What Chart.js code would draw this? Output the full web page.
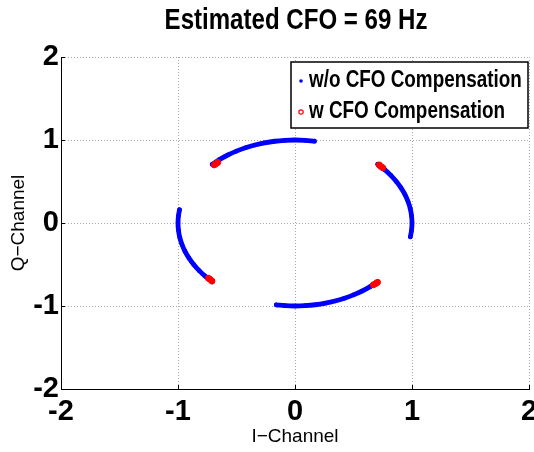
<!DOCTYPE html>
<html>
<head>
<meta charset="utf-8">
<script src="https://cdn.jsdelivr.net/npm/chart.js@4.4.1/dist/chart.umd.min.js"></script>
<style>
  html, body { margin: 0; padding: 0; background: #fff; }
  #wrap { width: 534px; height: 452px; }
</style>
</head>
<body>
<div id="wrap"><canvas id="cfoChart" width="534" height="452"></canvas></div>
<script>
// labels
const chartTitle = 'Estimated CFO = 69 Hz';
const xTitle = 'I\u2212Channel';
const yTitle = 'Q\u2212Channel';
const blueLabel = 'w/o CFO Compensation';
const redLabel = 'w CFO Compensation';
const tickValues = [-2, -1, 0, 1, 2];

// blue: received symbols without compensation, four arcs [I, Q]
const arcTop = [
  [-0.707, 0.707], [-0.643, 0.766], [-0.574, 0.819], [-0.500, 0.866], [-0.423, 0.906], [-0.342, 0.940],
  [-0.259, 0.966], [-0.174, 0.985], [-0.087, 0.996], [0.000, 1.000], [0.087, 0.996], [0.166, 0.986]
];
const arcRight = [
  [0.707, 0.707], [0.766, 0.643], [0.819, 0.574], [0.866, 0.500], [0.906, 0.423], [0.940, 0.342],
  [0.966, 0.259], [0.985, 0.174], [0.996, 0.087], [1.000, 0.000], [0.996, -0.087], [0.986, -0.166]
];
const arcBottom = [
  [0.707, -0.707], [0.643, -0.766], [0.574, -0.819], [0.500, -0.866], [0.423, -0.906], [0.342, -0.940],
  [0.259, -0.966], [0.174, -0.985], [0.087, -0.996], [0.000, -1.000], [-0.087, -0.996], [-0.160, -0.987]
];
const arcLeft = [
  [-0.707, -0.707], [-0.766, -0.643], [-0.819, -0.574], [-0.866, -0.500], [-0.906, -0.423], [-0.940, -0.342],
  [-0.966, -0.259], [-0.985, -0.174], [-0.996, -0.087], [-1.000, 0.000], [-0.996, 0.087], [-0.987, 0.160]
];

// red: symbols after compensation, clustered at the QPSK points
const compensated = [
  [-0.69, 0.70], [-0.675, 0.715], [-0.66, 0.73],
  [0.72, 0.70], [0.735, 0.68], [0.75, 0.665],
  [0.67, -0.745], [0.69, -0.73], [0.705, -0.715],
  [-0.74, -0.665], [-0.725, -0.68], [-0.71, -0.70]
];

const boldFont = "'Liberation Sans', Arial, sans-serif";
const plainFont = "'Liberation Sans', Arial, sans-serif";

const toPoints = (arr) => arr.map(([x, y]) => ({ x, y }));

const arcDataset = (arr) => ({
  label: blueLabel,
  data: toPoints(arr),
  showLine: true,
  borderColor: '#0000ff',
  backgroundColor: '#0000ff',
  borderWidth: 4.8,
  borderCapStyle: 'round',
  borderJoinStyle: 'round',
  tension: 0.4,
  pointRadius: 2.3,
  pointBorderWidth: 0,
  order: 2
});

// MATLAB style ticks pointing into the plot
const innerTicks = {
  id: 'innerTicks',
  afterDatasetsDraw(chart) {
    const { ctx, chartArea: a, scales: { x, y } } = chart;
    ctx.save();
    ctx.strokeStyle = '#000';
    ctx.lineWidth = 1;
    ctx.beginPath();
    tickValues.forEach((v) => {
      const px = Math.round(x.getPixelForValue(v)) + 0.5;
      ctx.moveTo(px, a.bottom);
      ctx.lineTo(px, a.bottom - 4);
      const py = Math.round(y.getPixelForValue(v)) + 0.5;
      ctx.moveTo(a.left, py);
      ctx.lineTo(a.left + 4, py);
    });
    ctx.stroke();
    ctx.restore();
  }
};

// condensed bold title centred over the plot area
const narrowTitle = {
  id: 'narrowTitle',
  afterDraw(chart) {
    const { ctx, chartArea: a } = chart;
    ctx.save();
    ctx.font = 'bold 29px ' + boldFont;
    ctx.fillStyle = '#000';
    ctx.textAlign = 'center';
    ctx.textBaseline = 'middle';
    const w = ctx.measureText(chartTitle).width * 0.83;
    ctx.fillText(chartTitle, (a.left + a.right) / 2 + 1, 21, w);
    ctx.restore();
  }
};

// boxed legend in the upper right corner
const boxLegend = {
  id: 'boxLegend',
  afterDraw(chart) {
    const { ctx, chartArea: a } = chart;
    const w = 237, h = 66;
    const left = a.right - w - 1, top = a.top + 5;
    ctx.save();
    ctx.fillStyle = '#fff';
    ctx.fillRect(left, top, w, h);
    ctx.strokeStyle = '#000';
    ctx.lineWidth = 1.5;
    ctx.strokeRect(left, top, w, h);

    const rows = [
      { label: chart.data.datasets[0].label, y: top + 19, color: '#0000ff', hollow: false },
      { label: chart.data.datasets[4].label, y: top + 50, color: '#ff0000', hollow: true }
    ];
    ctx.font = 'bold 23px ' + boldFont;
    ctx.textBaseline = 'middle';
    ctx.textAlign = 'left';
    rows.forEach((r) => {
      ctx.beginPath();
      if (r.hollow) {
        ctx.arc(left + 10, r.y, 2.2, 0, Math.PI * 2);
        ctx.strokeStyle = r.color;
        ctx.lineWidth = 1.2;
        ctx.stroke();
      } else {
        ctx.arc(left + 10, r.y, 1.8, 0, Math.PI * 2);
        ctx.fillStyle = r.color;
        ctx.fill();
      }
      ctx.fillStyle = '#000';
      ctx.fillText(r.label, left + 18, r.y, ctx.measureText(r.label).width * 0.82);
    });
    ctx.restore();
  }
};

const gridStyle = { color: '#a8a8a8', lineWidth: 1, drawTicks: false };
const borderStyle = { display: true, color: '#000', width: 1, dash: [1, 2] };
const tickFont = { family: boldFont, size: 29, weight: 'bold' };

new Chart(document.getElementById('cfoChart'), {
  type: 'scatter',
  data: {
    datasets: [
      arcDataset(arcTop),
      arcDataset(arcRight),
      arcDataset(arcBottom),
      arcDataset(arcLeft),
      {
        label: redLabel,
        data: toPoints(compensated),
        showLine: false,
        pointRadius: 3,
        pointBackgroundColor: '#ff0000',
        pointBorderColor: '#ff0000',
        pointBorderWidth: 1,
        order: 1
      }
    ]
  },
  options: {
    responsive: false,
    animation: false,
    layout: { padding: { left: 0, right: 5, top: 57, bottom: 0 } },
    plugins: {
      legend: { display: false },
      tooltip: { enabled: false },
      title: { display: false }
    },
    scales: {
      x: {
        type: 'linear',
        min: -2,
        max: 2,
        afterFit: (s) => { s.height = 63; s.paddingLeft = 0; s.paddingRight = 0; },
        ticks: { stepSize: 1, padding: 6, color: '#000', font: tickFont, maxRotation: 0 },
        grid: gridStyle,
        border: borderStyle,
        title: {
          display: true, text: xTitle, color: '#000',
          font: { family: plainFont, size: 19 },
          padding: { top: 0, bottom: 4 }
        }
      },
      y: {
        type: 'linear',
        min: -2,
        max: 2,
        afterFit: (s) => { s.width = 61; },
        ticks: { stepSize: 1, padding: 2, color: '#000', font: tickFont },
        grid: gridStyle,
        border: borderStyle,
        title: {
          display: true, text: yTitle, color: '#000',
          font: { family: plainFont, size: 19 },
          padding: { top: 7, bottom: 0 }
        }
      }
    }
  },
  plugins: [innerTicks, narrowTitle, boxLegend]
});
</script>
</body>
</html>
